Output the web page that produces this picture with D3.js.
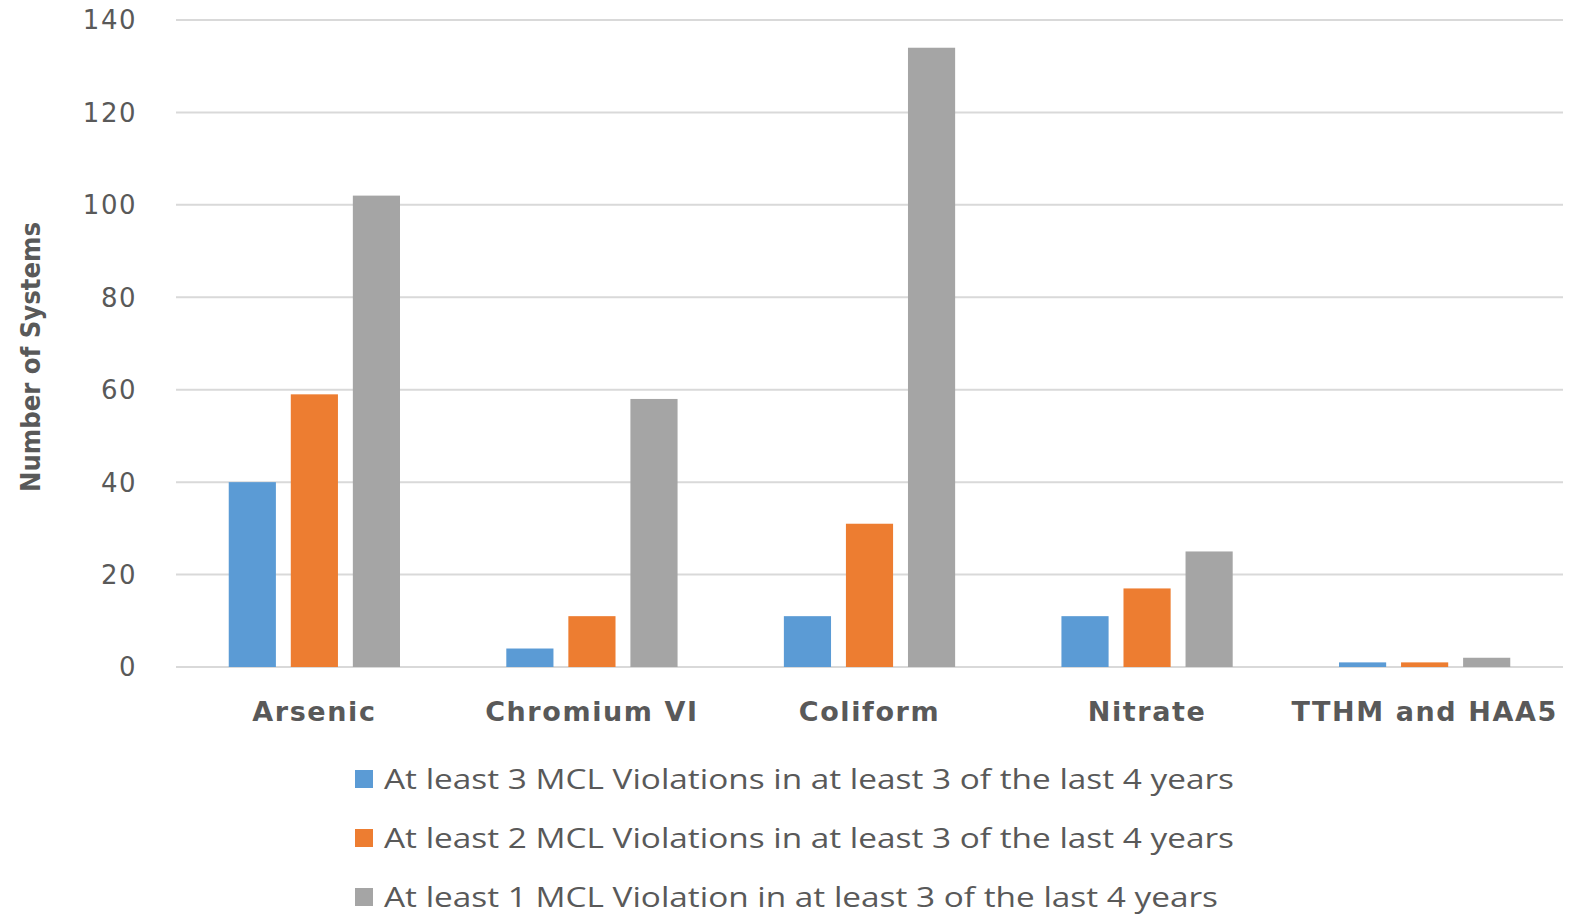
<!DOCTYPE html>
<html>
<head>
<style>
html, body {
    margin: 0;
    padding: 0;
    background: #fff;
    overflow: hidden;
}
</style>
</head>
<body>
<script src="https://d3js.org/d3.v7.min.js"></script>
<script>
const categories = ["Arsenic", "Chromium VI", "Coliform", "Nitrate", "TTHM and HAA5"];
const seriesNames = [
    "At least 3 MCL Violations in at least 3 of the last 4 years",
    "At least 2 MCL Violations in at least 3 of the last 4 years",
    "At least 1 MCL Violation in at least 3 of the last 4 years"
];
const threeViolations = [40, 4, 11, 11, 1];
const twoViolations = [59, 11, 31, 17, 1];
const oneViolation = [102, 58, 134, 25, 2];
const yTicks = [0, 20, 40, 60, 80, 100, 120, 140];
const colors = ["#5B9BD5", "#ED7D31", "#A5A5A5"];

const [width, height] = [1569, 915];
const margin = {top: 20, right: 6, bottom: 248, left: 176};

const series = [threeViolations, twoViolations, oneViolation];

const svg = d3.select("body").append("svg")
    .attr("width", width)
    .attr("height", height);

const x = d3.scaleBand()
    .domain(categories)
    .range([margin.left, width - margin.right])
    .paddingInner(0.383)
    .paddingOuter(0.19);

const xs = d3.scaleBand()
    .domain(d3.range(series.length))
    .range([0, x.bandwidth()])
    .paddingInner(0.24);

const y = d3.scaleLinear()
    .domain([0, 140])
    .range([height - margin.bottom, margin.top]);

// gridlines
svg.append("g")
    .selectAll("line")
    .data(yTicks)
    .join("line")
        .attr("x1", margin.left)
        .attr("x2", width - margin.right)
        .attr("y1", d => y(d))
        .attr("y2", d => y(d))
        .attr("stroke", "#d9d9d9")
        .attr("stroke-width", 2);

// y tick labels
svg.append("g")
    .selectAll("text")
    .data(yTicks)
    .join("text")
        .attr("x", 137)
        .attr("y", d => y(d))
        .attr("dy", "0.36em")
        .attr("text-anchor", "end")
        .attr("fill", "#595959")
        .style("font-family", "'DejaVu Sans', sans-serif")
        .style("font-size", "26px")
        .style("letter-spacing", "1.5px")
        .text(d => d);

// bars
const groups = svg.append("g")
    .selectAll("g")
    .data(categories)
    .join("g")
        .attr("transform", d => `translate(${x(d)},0)`);

groups.selectAll("rect")
    .data((c, i) => series.map((s, k) => ({k, v: s[i]})))
    .join("rect")
        .attr("x", d => xs(d.k))
        .attr("width", xs.bandwidth())
        .attr("y", d => y(d.v))
        .attr("height", d => y(0) - y(d.v))
        .attr("fill", d => colors[d.k]);

// category labels
svg.append("g")
    .selectAll("text")
    .data(categories)
    .join("text")
        .attr("x", d => x(d) + x.bandwidth() / 2)
        .attr("y", 721)
        .attr("text-anchor", "middle")
        .attr("fill", "#595959")
        .style("font-family", "'DejaVu Sans', sans-serif")
        .style("font-weight", "bold")
        .style("font-size", "27px")
        .style("letter-spacing", "1.6px")
        .text(d => d);

// y axis title
svg.append("text")
    .attr("transform", "translate(40,357) rotate(-90)")
    .attr("text-anchor", "middle")
    .attr("fill", "#595959")
    .style("font-family", "'DejaVu Sans Condensed', 'DejaVu Sans', sans-serif")
    .style("font-weight", "bold")
    .style("font-size", "27px")
    .attr("textLength", 270)
    .attr("lengthAdjust", "spacingAndGlyphs")
    .text("Number of Systems");

// legend
const legend = svg.append("g")
    .selectAll("g")
    .data(seriesNames)
    .join("g")
        .attr("transform", (d, i) => `translate(355,${779 + i * 59})`);

legend.append("rect")
    .attr("y", -9)
    .attr("width", 18)
    .attr("height", 18)
    .attr("fill", (d, i) => colors[i]);

legend.append("text")
    .attr("x", 29)
    .attr("dy", "0.36em")
    .attr("fill", "#595959")
    .style("font-family", "'Open Sans', sans-serif")
    .style("font-size", "27px")
    .attr("textLength", (d, i) => i === 2 ? 834 : 850)
    .attr("lengthAdjust", "spacingAndGlyphs")
    .text(d => d);
</script>
</body>
</html>
